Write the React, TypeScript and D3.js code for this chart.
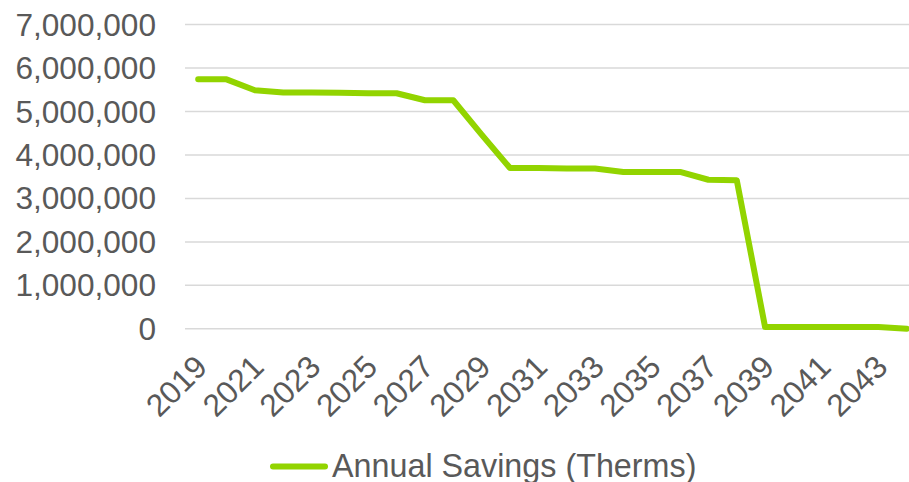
import { useEffect, useRef } from "react";
import * as d3 from "d3";

// annual savings, therms
const years = [
  2019, 2020, 2021, 2022, 2023, 2024, 2025, 2026, 2027, 2028, 2029, 2030, 2031,
  2032, 2033, 2034, 2035, 2036, 2037, 2038, 2039, 2040, 2041, 2042, 2043, 2044,
];
const savings = [
  5740000, 5740000, 5490000, 5440000, 5440000, 5430000, 5420000, 5420000,
  5260000, 5260000, 4470000, 3700000, 3700000, 3690000, 3690000, 3610000,
  3610000, 3610000, 3430000, 3420000, 40000, 40000, 40000, 40000, 40000, 0,
];
const yTicks = [0, 1000000, 2000000, 3000000, 4000000, 5000000, 6000000, 7000000];
const seriesName = "Annual Savings (Therms)";

const W = 909;
const H = 482;
const green = "#92D400";
const grey = "#595959";
const font = "'Liberation Sans', Arial, sans-serif";

export default function App() {
  const ref = useRef<SVGSVGElement>(null);

  useEffect(() => {
    const svg = d3.select(ref.current);
    svg.selectAll("*").remove();

    const x = d3
      .scaleBand<number>()
      .domain(years)
      .range([184, 921])
      .padding(0);
    const cx = (d: number) => (x(d) as number) + x.bandwidth() / 2;
    const y = d3.scaleLinear().domain([0, 7000000]).range([328.8, 24.6]);

    // ---- grid lines ----
    svg
      .append("g")
      .selectAll("line")
      .data(yTicks)
      .enter()
      .append("line")
      .attr("x1", 185)
      .attr("x2", W)
      .attr("y1", (d) => y(d))
      .attr("y2", (d) => y(d))
      .attr("stroke", "#D9D9D9")
      .attr("stroke-width", 1.5);

    // ---- y labels ----
    svg
      .append("g")
      .selectAll("text")
      .data(yTicks)
      .enter()
      .append("text")
      .attr("x", 156)
      .attr("y", (d) => y(d))
      .attr("dy", "0.35em")
      .attr("text-anchor", "end")
      .attr("font-family", font)
      .attr("font-size", 31.6)
      .attr("fill", grey)
      .text((d) => d3.format(",")(d));

    // ---- x labels (every other year) ----
    svg
      .append("g")
      .selectAll("text")
      .data(years.filter((d, i) => i % 2 === 0))
      .enter()
      .append("text")
      .attr("transform", (d) => `translate(${cx(d) - 5},${353}) rotate(-45)`)
      .attr("dy", "0.71em")
      .attr("text-anchor", "end")
      .attr("font-family", font)
      .attr("font-size", 31.6)
      .attr("fill", grey)
      .text((d) => String(d));

    // ---- line ----
    const line = d3
      .line<number>()
      .x((d, i) => cx(years[i]))
      .y((d) => y(d));
    svg
      .append("path")
      .datum(savings)
      .attr("d", line)
      .attr("fill", "none")
      .attr("stroke", green)
      .attr("stroke-width", 6)
      .attr("stroke-linejoin", "round")
      .attr("stroke-linecap", "round");

    // ---- legend ----
    const lg = svg.append("g");
    lg.append("line")
      .attr("x1", 273)
      .attr("x2", 325)
      .attr("y1", 466.5)
      .attr("y2", 466.5)
      .attr("stroke", green)
      .attr("stroke-width", 6)
      .attr("stroke-linecap", "round");
    lg.append("text")
      .attr("x", 332)
      .attr("y", 477)
      .attr("font-family", font)
      .attr("font-size", 32.3)
      .attr("fill", grey)
      .text(seriesName);
  }, []);

  return (
    <svg
      ref={ref}
      width={W}
      height={H}
      style={{ position: "absolute", left: 0, top: 0, background: "#fff" }}
    />
  );
}
